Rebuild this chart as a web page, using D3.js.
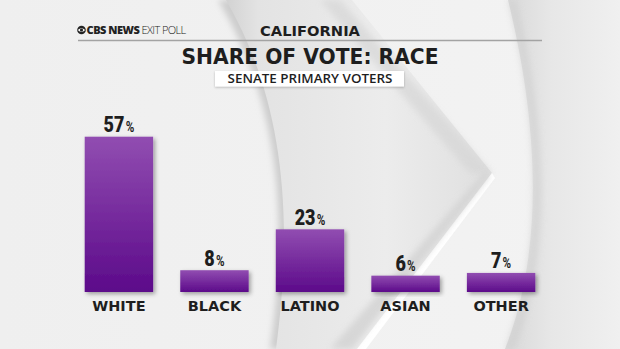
<!DOCTYPE html>
<html>
<head>
<meta charset="utf-8">
<script src="https://cdn.jsdelivr.net/npm/d3@7"></script>
<style>
  html, body { margin: 0; padding: 0; background: #efefef; }
  svg { display: block; }
</style>
</head>
<body>
<svg id="chart" width="620" height="349"></svg>
<script>
// ---- Data ----
const categories = ["WHITE", "BLACK", "LATINO", "ASIAN", "OTHER"];
const values = [57, 8, 23, 6, 7];
const kicker = "CALIFORNIA";
const title = "SHARE OF VOTE: RACE";
const subtitle = "SENATE PRIMARY VOTERS";
const brandBold = "CBS NEWS";
const brandLight = "EXIT POLL";

const W = 620, H = 349;
const svg = d3.select("#chart");
const defs = svg.append("defs");

// ---- Background ----
const bgGrad = defs.append("linearGradient").attr("id", "bgGrad").attr("x1", 0).attr("x2", 1).attr("y1", 0).attr("y2", 0);
bgGrad.append("stop").attr("offset", "0%").attr("stop-color", "#efefef");
bgGrad.append("stop").attr("offset", "100%").attr("stop-color", "#f3f3f3");
svg.append("rect").attr("width", W).attr("height", H).attr("fill", "url(#bgGrad)");

const cresGrad = defs.append("linearGradient").attr("id", "cresGrad").attr("x1", 0).attr("x2", 1).attr("y1", 0).attr("y2", 0);
cresGrad.append("stop").attr("offset", "0%").attr("stop-color", "#d2d2d2");
cresGrad.append("stop").attr("offset", "12%").attr("stop-color", "#e3e3e3");
cresGrad.append("stop").attr("offset", "60%").attr("stop-color", "#ececec");
cresGrad.append("stop").attr("offset", "100%").attr("stop-color", "#dfdfdf");

const rightGrad = defs.append("linearGradient").attr("id", "rightGrad").attr("x1", 0).attr("x2", 1).attr("y1", 0).attr("y2", 0);
rightGrad.append("stop").attr("offset", "0%").attr("stop-color", "#d8d8d8");
rightGrad.append("stop").attr("offset", "40%").attr("stop-color", "#e7e7e7");
rightGrad.append("stop").attr("offset", "100%").attr("stop-color", "#f0f0f0");

const blur = defs.append("filter").attr("id", "soft").attr("x", "-20%").attr("y", "-20%").attr("width", "140%").attr("height", "140%");
blur.append("feGaussianBlur").attr("stdDeviation", 3);

svg.append("path")
  .attr("d", "M218,0 C272,90 292,200 270,349 L290,349 C312,200 292,90 240,0 Z")
  .attr("fill", "#cdcdcd").attr("filter", "url(#soft)");
svg.append("path")
  .attr("d", "M226,0 C278,90 296,200 276,349 L357,349 L492,173 L352,0 Z")
  .attr("fill", "url(#cresGrad)");
svg.append("path")
  .attr("d", "M340,0 L492,173 L470,173 L320,0 Z")
  .attr("fill", "#d6d6d6").attr("filter", "url(#soft)").attr("opacity", 0.7);
svg.append("path")
  .attr("d", "M492,173 L357,349 L366,349 L495,178 Z")
  .attr("fill", "#ffffff");
svg.append("path")
  .attr("d", "M486,170 L330,349 L352,349 L490,176 Z")
  .attr("fill", "#d2d2d2").attr("filter", "url(#soft)").attr("opacity", 0.8);
svg.append("path")
  .attr("d", "M508,0 C535,110 548,240 505,349 L620,349 L620,0 Z")
  .attr("fill", "url(#rightGrad)");
svg.append("path")
  .attr("d", "M508,0 C535,110 548,240 505,349 L515,349 C556,240 543,110 516,0 Z")
  .attr("fill", "#d0d0d0").attr("filter", "url(#soft)").attr("opacity", 0.7);

// ---- Header ----
const brand = svg.append("g");
brand.append("circle").attr("cx", 81.5).attr("cy", 30).attr("r", 4.3).attr("fill", "#222");
brand.append("path").attr("d", "M77.8,30 Q81.5,26.3 85.2,30 Q81.5,33.7 77.8,30 Z").attr("fill", "#fff");
brand.append("circle").attr("cx", 81.5).attr("cy", 30).attr("r", 1.6).attr("fill", "#222");
const bt = brand.append("text").attr("x", 86.5).attr("y", 34)
  .style("font-family", "'Open Sans', 'DejaVu Sans', sans-serif").style("font-size", "11px").attr("fill", "#222");
bt.append("tspan").text(brandBold).style("font-weight", 800).attr("letter-spacing", "-0.5");
bt.append("tspan").text(" " + brandLight).style("font-weight", 300).attr("letter-spacing", "-0.6");

svg.append("text").attr("x", 310).attr("y", 35.5).attr("text-anchor", "middle")
  .style("font-family", "'DejaVu Sans', sans-serif").style("font-size", "14.5px").style("font-weight", 700)
  .attr("fill", "#1e1e1e").attr("textLength", 100).attr("lengthAdjust", "spacingAndGlyphs").text(kicker);

svg.append("line").attr("x1", 78).attr("x2", 542).attr("y1", 40.5).attr("y2", 40.5)
  .attr("stroke", "#a3a3a3").attr("stroke-width", 1.3);

svg.append("text").attr("x", 310).attr("y", 63.5).attr("text-anchor", "middle")
  .style("font-family", "'DejaVu Sans', sans-serif").style("font-size", "20.5px").style("font-weight", 700)
  .attr("fill", "#1e1e1e").attr("textLength", 257).attr("lengthAdjust", "spacingAndGlyphs").text(title);

const boxShadow = defs.append("filter").attr("id", "boxShadow").attr("x", "-10%").attr("y", "-30%").attr("width", "120%").attr("height", "160%");
boxShadow.append("feDropShadow").attr("dx", 0).attr("dy", 1).attr("stdDeviation", 1).attr("flood-color", "#000").attr("flood-opacity", 0.25);
svg.append("rect").attr("x", 215).attr("y", 71).attr("width", 189).attr("height", 15.5)
  .attr("fill", "#ffffff").attr("filter", "url(#boxShadow)");
svg.append("text").attr("x", 310).attr("y", 83.3).attr("text-anchor", "middle")
  .style("font-family", "'Open Sans', 'DejaVu Sans', sans-serif").style("font-size", "12.5px").style("font-weight", 600)
  .attr("fill", "#1e1e1e").attr("textLength", 165).attr("lengthAdjust", "spacingAndGlyphs").text(subtitle);

// ---- Scales ----
const x = d3.scaleBand().domain(categories).range([84.7, 535.3]).paddingInner(0.284).paddingOuter(0);
const y = d3.scaleLinear().domain([0, 57]).range([292, 136.7]);

const barGrad = defs.append("linearGradient").attr("id", "barGrad").attr("x1", 0).attr("x2", 0).attr("y1", 0).attr("y2", 1);
barGrad.append("stop").attr("offset", "0%").attr("stop-color", "#914db1");
barGrad.append("stop").attr("offset", "100%").attr("stop-color", "#5c0a8a");

const barShadow = defs.append("filter").attr("id", "barShadow").attr("x", "-20%").attr("y", "-20%").attr("width", "150%").attr("height", "150%");
barShadow.append("feDropShadow").attr("dx", 2).attr("dy", 2).attr("stdDeviation", 2.2).attr("flood-color", "#000").attr("flood-opacity", 0.35);

const data = categories.map((c, i) => ({ c, v: values[i] }));

svg.append("g").selectAll("rect").data(data).join("rect")
  .attr("x", d => x(d.c)).attr("width", x.bandwidth())
  .attr("y", d => y(d.v)).attr("height", d => y(0) - y(d.v))
  .attr("fill", "url(#barGrad)").attr("filter", "url(#barShadow)");

// value labels (condensed via horizontal scale)
const vl = svg.append("g").selectAll("g").data(data).join("g")
  .attr("transform", d => `translate(${x(d.c) + x.bandwidth() / 2},${y(d.v) - 4.5}) scale(0.8,1)`)
  .append("text")
  .attr("text-anchor", "middle")
  .style("font-family", "Roboto, 'DejaVu Sans', sans-serif")
  .style("font-weight", 900).attr("fill", "#1e1e1e");
vl.append("tspan").text(d => d.v).style("font-size", "22.5px");
vl.append("tspan").text("%").style("font-size", "14.5px").style("font-weight", 700).attr("dx", 1.5);

// category labels
svg.append("g").selectAll("text").data(categories).join("text")
  .attr("x", d => x(d) + x.bandwidth() / 2).attr("y", 311)
  .attr("text-anchor", "middle")
  .style("font-family", "'DejaVu Sans', sans-serif").style("font-size", "14.5px").style("font-weight", 700)
  .attr("fill", "#1e1e1e").text(d => d);
</script>
</body>
</html>
